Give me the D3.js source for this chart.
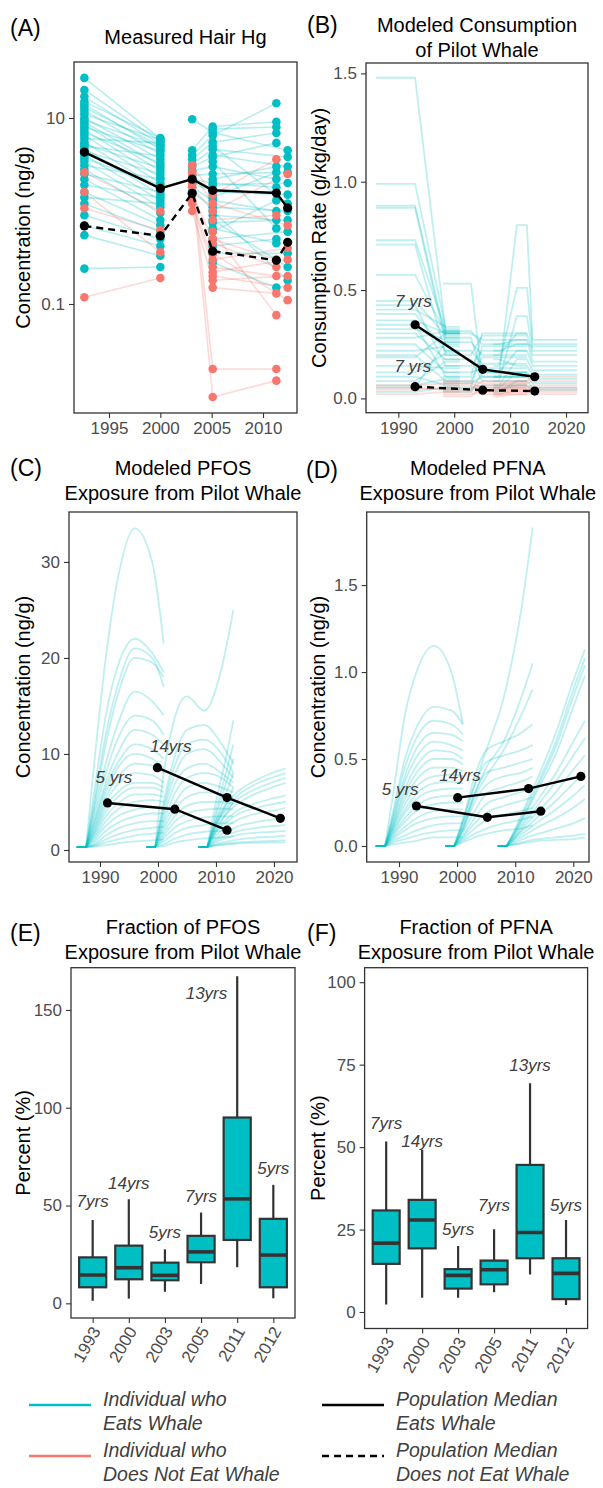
<!DOCTYPE html>
<meta charset="utf-8">
<style>
body { margin: 0; background: #fff; }
svg { font-family: "Liberation Sans", Arial, Helvetica, sans-serif; }
.axis text { fill: #4d4d4d; font-size: 17px; }
.axis line { stroke: #333; stroke-width: 1.1px; }
.axis path { display: none; }
.frame { fill: none; stroke: #333; stroke-width: 1.3px; }
.title { font-size: 20px; fill: #000; text-anchor: middle; }
.tag { font-size: 23px; fill: #000; }
.ytitle { font-size: 20px; fill: #000; text-anchor: middle; }
.note { font-size: 17px; font-style: italic; fill: #404040; text-anchor: middle; }
.legend text { font-size: 19.5px; font-style: italic; fill: #404040; }
</style>
<body>
<script src="https://cdn.jsdelivr.net/npm/d3@7"></script>
<script>
var teal = "#00BFC4", salmon = "#F8766D";

// ---------- (A) measured hair Hg ----------
var hgYears = [1992.6, 2000, 2003.1, 2005.1, 2011.3, 2012.4];
// cohort 1: [1993, 2000]
var hgEatC1 = [[27,6.0],[20,5.6],[17,5.2],[15,6.1],[14,4.6],[13,5.0],[12,4.1],[11,5.8],[10,3.6],[9.5,4.9],
  [9,3.1],[8.5,2.7],[8,4.4],[7.5,2.3],[7,3.3],[6.5,2.0],[6,5.4],[5.5,1.7],[5.2,2.9],[5,3.9],[4.7,1.5],
  [4.4,2.5],[4,1.3],[3.7,1.9],[3.4,1.1],[3.1,2.2],[2.8,0.95],[2.5,1.6],[2.2,0.8],[1.9,1.4],[1.6,0.7],
  [1.4,1.2],[1.2,0.6],[0.9,0.5],[0.7,0.42],[0.55,0.33],[0.24,0.25]];
var hgNotC1 = [[1.6,0.36],[1.07,0.62],[0.118,0.19],[2.6,1.0]];
// cohort 2: [2003, 2005, 2011, 2012]
var hgEatC2 = [[9.7,7.0,null,4.5],[4.5,8.1,9.1,null],[4.0,6.5,14.4,null],[3.6,5.5,6.9,null],[3.2,4.6,null,3.8],
  [3.0,3.8,5.4,null],[2.7,3.0,2.2,null],[2.4,2.5,null,2.6],[2.2,2.0,1.8,null],[2.0,1.6,null,1.5],
  [1.8,1.3,1.0,null],[1.6,1.1,null,1.0],[null,0.9,0.8,null],[null,0.75,null,0.8],[null,0.6,1.3,null],
  [null,0.5,null,0.6],[null,0.42,0.5,null],[null,0.35,null,0.35],[null,0.28,0.15,null],[null,2.2,3.0,null],
  [null,1.9,null,2.0],[null,1.4,2.6,null],[null,5.0,null,1.2],[null,3.4,0.65,null],[null,0.8,null,0.25],
  [null,0.65,0.45,null],[null,1.0,null,0.18],[null,7.6,8.0,null],[null,4.0,null,3.0]];
var hgNotC2 = [[3.1,1.5,3.6,null],[2.5,0.02,0.02,null],[2.0,0.01,0.015,null],[1.8,1.0,null,2.5],
  [1.5,0.5,0.3,null],[1.3,0.3,null,0.4],[1.2,0.25,0.2,null],[1.0,0.18,null,0.2],[null,0.15,0.13,null],
  [null,0.2,null,0.15],[null,0.6,0.076,null],[null,0.35,null,0.11],[null,0.45,0.25,null],
  [null,0.22,null,0.3],[null,0.8,0.9,null],[2.6,1.2,null,0.7]];
var hgMedEat = [4.3, 1.75, 2.2, 1.67, 1.56, 1.08];
var hgMedNot = [0.69, 0.54, 1.55, 0.37, 0.295, 0.46];

// ---------- (B) modeled consumption ----------
var bYears1 = [1986, 1993, 1998.5, 2001];
var bEat1 = [[1.48,0.30],[0.99,0.32],[0.89,0.28],[0.88,0.25],[0.73,0.31],[0.71,0.20],[0.57,0.30],[0.45,0.29],
  [0.43,0.15],[0.41,0.33],[0.39,0.22],[0.36,0.30],[0.34,0.10],[0.32,0.27],[0.30,0.18],[0.28,0.31],[0.25,0.12],
  [0.22,0.24],[0.20,0.08],[0.19,0.30],[0.15,0.14],[0.12,0.21],[0.10,0.06],[0.08,0.17],[0.06,0.09],[0.05,0.26],[0.03,0.05]];
var bNot1 = [[0.06,0.07],[0.04,0.05],[0.02,0.03],[0.05,0.04]];
var bYears2 = [1998, 2003, 2005, 2013];
var bEat2 = [[0.53,0.10],[0.31,0.25],[0.30,0.27],[0.28,0.12],[0.26,0.20],[0.22,0.16],[0.20,0.29],[0.18,0.08],
  [0.15,0.22],[0.12,0.14],[0.10,0.30],[0.08,0.19],[0.07,0.10],[0.05,0.24],[0.04,0.06],[0.03,0.12]];
var bNot2 = [[0.05,0.06],[0.03,0.04],[0.07,0.05],[0.02,0.03],[0.04,0.08],[0.06,0.02],[0.01,0.05],[0.08,0.07]];
var bYears3 = [2007, 2008, 2011.2, 2013, 2014, 2022];
var bEat3 = [[0.10,0.80,0.27],[0.15,0.51,0.25],[0.08,0.38,0.22],[0.20,0.30,0.20],[0.25,0.27,0.17],
  [0.12,0.22,0.15],[0.06,0.18,0.13],[0.18,0.15,0.11],[0.05,0.12,0.09],[0.10,0.10,0.07],[0.03,0.08,0.05],
  [0.22,0.25,0.24],[0.04,0.06,0.04]];
var bNot3 = [[0.03,0.05,0.06],[0.02,0.03,0.04],[0.05,0.07,0.08],[0.01,0.02,0.02],[0.04,0.06,0.03],
  [0.06,0.08,0.10],[0.02,0.04,0.05]];
var bMedYears = [1993, 2005.1, 2014.4];
var bMedEat = [0.34, 0.134, 0.10];
var bMedNot = [0.054, 0.038, 0.034];
var bNotes = [[1992.7, 0.45, "7 yrs"], [1992.6, 0.149, "7 yrs"]];

// ---------- (C) PFOS and (D) PFNA modeled exposure ----------
var knots1 = [1986, 1987.6, 1989, 1991, 1993, 1996, 1999, 2001];
var knots2 = [1998, 1999.5, 2001, 2003, 2005, 2008, 2011, 2013];
var knots3 = [2007, 2008.5, 2010, 2012, 2014, 2017, 2020, 2022];
var knots3b = [2007, 2008.5, 2010, 2011.5, 2013];

var pfosC1 = [[0.3,0.3,9,20,28,33.5,30,21.5],[0.3,0.3,6,14,19,22,20.5,18.5],[0.3,0.3,5,12,17,21,20,17],
  [0.3,0.3,4.5,11,16,20,19.5,18],[0.3,0.3,4,9,13,16.5,15.5,14],[0.3,0.3,3.5,8,11.5,14,13.5,12],
  [0.3,0.3,3,7,10,12.5,12,11],[0.3,0.3,2.8,6.5,9,11,10.5,9.5],[0.3,0.3,2.5,6,8.5,10,9.5,8.5],
  [0.3,0.3,2.2,5.5,7.5,9,8.8,8],[0.3,0.3,2,5,6.8,8,7.8,7],[0.3,0.3,1.8,4.5,6,7,7,6.5],
  [0.3,0.3,1.6,4,5.5,6.5,6.5,6],[0.3,0.3,1.4,3.5,4.8,5.8,5.8,5.5],[0.3,0.3,1.2,3,4.2,5,5.2,5],
  [0.3,0.3,1,2.5,3.5,4.2,4.5,4.3],[0.3,0.3,0.8,2,2.8,3.5,3.8,3.8],[0.3,0.3,0.6,1.5,2.2,2.8,3,3],
  [0.3,0.3,0.5,1.1,1.6,2.1,2.3,2.4],[0.3,0.3,0.4,0.8,1.1,1.5,1.7,1.8],[0.3,0.3,0.35,0.5,0.7,0.9,1.0,1.1]];
var pfosC2 = [[0.3,0.3,8,14,16,14.5,19,25],[0.3,0.3,5,10,12.5,13,11,9],[0.3,0.3,4.5,9,11,11.5,10,8],
  [0.3,0.3,4,8,10,10.5,9,7.5],[0.3,0.3,3.5,7,8.5,9,8,7],[0.3,0.3,3,6,7.5,8,7.5,6.5],
  [0.3,0.3,2.6,5,6.5,7,6.5,6],[0.3,0.3,2.2,4.3,5.5,6,5.8,5.5],[0.3,0.3,1.8,3.6,4.6,5,5,4.8],
  [0.3,0.3,1.5,3,3.8,4.2,4.3,4.2],[0.3,0.3,1.2,2.4,3,3.4,3.5,3.5],[0.3,0.3,0.9,1.8,2.3,2.6,2.8,2.8],
  [0.3,0.3,0.6,1.2,1.6,1.9,2,2.1],[0.3,0.3,0.4,0.8,1,1.2,1.3,1.4]];
var pfosC3 = [[0.3,0.3,3,5,6.2,7.3,8.1,8.5],[0.3,0.3,2.8,4.6,5.8,6.9,7.6,8],[0.3,0.3,2.6,4.3,5.4,6.4,7.1,7.5],
  [0.3,0.3,2.3,3.9,4.9,5.9,6.6,7],[0.3,0.3,2,3.3,4.2,4.9,5.4,5.7],[0.3,0.3,1.8,3,3.8,4.4,4.8,5],
  [0.3,0.3,1.5,2.5,3.2,3.8,4.1,4.4],[0.3,0.3,1.2,2,2.5,2.9,3.2,3.4],[0.3,0.3,1,1.6,2,2.3,2.5,2.6],
  [0.3,0.3,0.8,1.3,1.6,1.8,1.9,2],[0.3,0.3,0.6,0.9,1.1,1.3,1.4,1.5],[0.3,0.3,0.5,0.7,0.8,0.9,0.95,1],
  [0.3,0.3,0.45,0.6,0.7,0.75,0.78,0.8]];
var pfosC3b = [[0.3,0.3,5,9,13.5],[0.3,0.3,4,7.5,11],[0.3,0.3,3.5,6.5,9.5],[0.3,0.3,3,5.5,8],
  [0.3,0.3,2.5,4.5,6.5],[0.3,0.3,2,3.5,5]];
var pfosMed5 = [[1991.3,4.9],[2002.9,4.25],[2011.9,2.06]];
var pfosMed14 = [[1999.9,8.57],[2011.9,5.46],[2021.1,3.3]];
var pfosNotes = [[1992.4, 7.57, "5 yrs"], [2002.2, 10.8, "14yrs"]];

var pfnaC1 = [[0,0,0.3,0.75,1.0,1.15,1.0,0.7],[0,0,0.2,0.5,0.68,0.8,0.78,0.7],[0,0,0.18,0.45,0.62,0.72,0.7,0.64],
  [0,0,0.16,0.4,0.56,0.65,0.64,0.6],[0,0,0.15,0.37,0.51,0.6,0.58,0.55],[0,0,0.13,0.33,0.46,0.55,0.54,0.5],
  [0,0,0.12,0.3,0.42,0.5,0.5,0.47],[0,0,0.11,0.27,0.38,0.45,0.45,0.43],[0,0,0.1,0.24,0.34,0.4,0.41,0.4],
  [0,0,0.09,0.21,0.3,0.36,0.37,0.36],[0,0,0.08,0.19,0.27,0.32,0.33,0.33],[0,0,0.07,0.16,0.23,0.28,0.29,0.29],
  [0,0,0.06,0.14,0.2,0.24,0.25,0.25],[0,0,0.05,0.11,0.16,0.2,0.21,0.21],[0,0,0.04,0.09,0.13,0.16,0.17,0.17],
  [0,0,0.03,0.06,0.09,0.12,0.13,0.13],[0,0,0.02,0.04,0.06,0.08,0.09,0.09],[0,0,0.01,0.02,0.03,0.05,0.05,0.05]];
var pfnaC2 = [[0,0,0.15,0.35,0.55,0.85,1.35,1.83],[0,0,0.12,0.3,0.45,0.6,0.85,1.05],[0,0,0.1,0.28,0.4,0.55,0.75,0.9],
  [0,0,0.15,0.4,0.55,0.6,0.65,0.7],[0,0,0.13,0.35,0.48,0.52,0.55,0.58],[0,0,0.1,0.3,0.42,0.45,0.48,0.5],
  [0,0,0.09,0.25,0.35,0.4,0.42,0.45],[0,0,0.08,0.2,0.3,0.34,0.37,0.4],[0,0,0.06,0.16,0.24,0.28,0.31,0.33],
  [0,0,0.05,0.13,0.19,0.23,0.26,0.28],[0,0,0.04,0.1,0.15,0.18,0.2,0.22],[0,0,0.03,0.07,0.1,0.13,0.15,0.17],
  [0,0,0.02,0.05,0.07,0.09,0.1,0.12]];
var pfnaC3 = [[0,0,0.1,0.25,0.4,0.65,0.95,1.13],[0,0,0.09,0.23,0.37,0.6,0.9,1.08],[0,0,0.08,0.21,0.35,0.57,0.86,1.04],
  [0,0,0.08,0.2,0.33,0.53,0.8,0.98],[0,0,0.07,0.17,0.27,0.42,0.6,0.72],[0,0,0.06,0.15,0.24,0.37,0.52,0.62],
  [0,0,0.05,0.13,0.2,0.31,0.44,0.52],[0,0,0.05,0.11,0.17,0.26,0.36,0.43],[0,0,0.04,0.09,0.14,0.21,0.29,0.35],
  [0,0,0.03,0.07,0.11,0.16,0.22,0.27],[0,0,0.02,0.05,0.07,0.1,0.13,0.16],[0,0,0.01,0.03,0.04,0.05,0.06,0.07],
  [0,0,0.01,0.02,0.03,0.035,0.04,0.05]];
var pfnaMed5 = [[1993,0.23],[2005.2,0.165],[2014.4,0.2]];
var pfnaMed14 = [[2000.1,0.278],[2012.3,0.33],[2021.3,0.40]];
var pfnaNotes = [[1990.2, 0.33, "5 yrs"], [2000.5, 0.41, "14yrs"]];

// ---------- (E) (F) fractions from pilot whale ----------
var boxYears = ["1993", "2000", "2003", "2005", "2011", "2012"];
var ageLabels = ["7yrs", "14yrs", "5yrs", "7yrs", "13yrs", "5yrs"];
var pfosLow  = [1.3, 2.4, 5.9, 9.9, 18.4, 2.6];
var pfosQ1   = [8.2, 12.3, 11.8, 21, 32.4, 8.2];
var pfosMed  = [14.5, 18.2, 14.3, 26.3, 53.4, 24.7];
var pfosQ3   = [23.5, 29.5, 20.8, 34.5, 95, 43.2];
var pfosHigh = [42.6, 53.2, 27.6, 46.4, 167.2, 60.6];
var pfosLabY = [52.3, 61.5, 36.6, 55, 158.6, 69.2];
var pfosLabShift = [0, 0, 0, 0, -0.85, 0];
var pfnaLow  = [2.3, 4.3, 4.3, 6, 11.4, 2.1];
var pfnaQ1   = [14.6, 19.3, 7.1, 8.4, 16.3, 3.9];
var pfnaMed  = [20.9, 27.9, 11.1, 12.8, 24.1, 11.7];
var pfnaQ3   = [30.8, 34, 13, 15.6, 44.6, 16.3];
var pfnaHigh = [51.7, 49.2, 20, 25.1, 69.4, 27.9];
var pfnaLabY = [57.3, 51.9, 25.2, 32.3, 75, 32.3];
var pfnaLabShift = [0, 0, 0, 0, 0, 0];

var svg = d3.select("body").append("svg").attr("width", 603).attr("height", 1488);
var clipId = 0;

function makePanel(c) {
  var g = svg.append("g").attr("transform", "translate(" + c.left + "," + c.top + ")");
  var id = "clip" + (clipId++);
  g.append("clipPath").attr("id", id).append("rect").attr("width", c.w).attr("height", c.h);
  var plot = g.append("g").attr("clip-path", "url(#" + id + ")");
  var yAxis = d3.axisLeft(c.y).tickValues(c.yticks).tickSize(5).tickPadding(4);
  if (c.yfmt) yAxis.tickFormat(c.yfmt);
  g.append("g").attr("class", "axis").call(yAxis);
  var xAxis = d3.axisBottom(c.x).tickSize(5).tickPadding(4);
  if (c.xticks) xAxis.tickValues(c.xticks).tickFormat(d3.format("d"));
  var xg = g.append("g").attr("class", "axis").attr("transform", "translate(0," + c.h + ")").call(xAxis);
  if (c.rotate) {
    xg.selectAll("text").attr("y", 0).attr("x", 0).attr("dy", "0.35em")
      .attr("text-anchor", "end").attr("transform", "translate(3,10) rotate(-60)");
  }
  g.append("rect").attr("class", "frame").attr("width", c.w).attr("height", c.h);
  g.append("text").attr("class", "ytitle")
    .attr("transform", "translate(" + (c.ytx - c.left) + "," + (c.h / 2) + ") rotate(-90)")
    .attr("dy", "0.35em").text(c.ylab);
  c.title.forEach(function(t, i) {
    svg.append("text").attr("class", "title").attr("x", c.left + c.w / 2).attr("y", c.titleY + i * 25).text(t);
  });
  svg.append("text").attr("class", "tag").attr("x", c.tagX).attr("y", c.tagY).text(c.tag);
  return { g: g, plot: plot };
}

function drawMedian(plot, pts, x, y, dashed) {
  plot.append("path").datum(pts)
    .attr("d", d3.line().x(function(d) { return x(d[0]); }).y(function(d) { return y(d[1]); }))
    .attr("fill", "none").attr("stroke", "#000").attr("stroke-width", 2.4)
    .attr("stroke-dasharray", dashed ? "7,5" : null);
  plot.selectAll(null).data(pts).enter().append("circle")
    .attr("cx", function(d) { return x(d[0]); }).attr("cy", function(d) { return y(d[1]); })
    .attr("r", 4.6).attr("fill", "#000");
}

function drawNotes(g, notes, x, y) {
  notes.forEach(function(n) {
    g.append("text").attr("class", "note").attr("x", x(n[0])).attr("y", y(n[1])).attr("dy", "0.35em").text(n[2]);
  });
}

// ===== (A) =====
(function() {
  var x = d3.scaleLinear().domain([1991.59, 2013.31]).range([0, 223]);
  var y = d3.scaleLog().domain([0.00673, 40]).range([351, 0]);
  var p = makePanel({ left: 74, top: 62, w: 223, h: 351, x: x, y: y,
    xticks: [1995, 2000, 2005, 2010], yticks: [0.1, 10], yfmt: d3.format("~g"),
    ylab: "Concentration (ng/g)", ytx: 23, title: ["Measured Hair Hg"], titleY: 44,
    tag: "(A)", tagX: 10, tagY: 36 });
  function rows(c1, c2) {
    return c1.map(function(r) { return [r[0], r[1], null, null, null, null]; })
      .concat(c2.map(function(r) { return [null, null, r[0], r[1], r[2], r[3]]; }));
  }
  var eat = rows(hgEatC1, hgEatC2), not = rows(hgNotC1, hgNotC2);
  var line = d3.line().x(function(d) { return x(d[0]); }).y(function(d) { return y(d[1]); });
  function pts(r) {
    return r.map(function(v, i) { return [hgYears[i], v]; }).filter(function(d) { return d[1] != null; });
  }
  [[not, salmon], [eat, teal]].forEach(function(s) {
    s[0].forEach(function(r) {
      p.plot.append("path").datum(pts(r)).attr("d", line).attr("fill", "none")
        .attr("stroke", s[1]).attr("stroke-opacity", 0.28).attr("stroke-width", 1.6);
    });
  });
  [[eat, teal], [not, salmon]].forEach(function(s) {
    s[0].forEach(function(r) {
      p.plot.selectAll(null).data(pts(r)).enter().append("circle")
        .attr("cx", function(d) { return x(d[0]); }).attr("cy", function(d) { return y(d[1]); })
        .attr("r", 4.3).attr("fill", s[1]);
    });
  });
  drawMedian(p.plot, hgMedEat.map(function(v, i) { return [hgYears[i], v]; }), x, y, false);
  drawMedian(p.plot, hgMedNot.map(function(v, i) { return [hgYears[i], v]; }), x, y, true);
})();

// ===== (B) =====
(function() {
  var x = d3.scaleLinear().domain([1984.22, 2023.93]).range([0, 222]);
  var y = d3.scaleLinear().domain([-0.066, 1.548]).range([349.7, 0]);
  var p = makePanel({ left: 366, top: 63, w: 222, h: 349.7, x: x, y: y,
    xticks: [1990, 2000, 2010, 2020], yticks: [0, 0.5, 1, 1.5], yfmt: d3.format(".1f"),
    ylab: "Consumption Rate (g/kg/day)", ytx: 319, title: ["Modeled Consumption", "of Pilot Whale"], titleY: 32,
    tag: "(B)", tagX: 307, tagY: 33 });
  var line = d3.line().x(function(d) { return x(d[0]); }).y(function(d) { return y(d[1]); });
  function draw(years, rows, expand, color) {
    rows.forEach(function(r) {
      var vals = expand(r);
      p.plot.append("path").datum(years.map(function(yr, i) { return [yr, vals[i]]; }))
        .attr("d", line).attr("fill", "none").attr("stroke", color)
        .attr("stroke-opacity", 0.25).attr("stroke-width", 1.8);
    });
  }
  var two = function(r) { return [r[0], r[0], r[1], r[1]]; };
  var three = function(r) { return [r[0], r[0], r[1], r[1], r[2], r[2]]; };
  draw(bYears1, bEat1, two, teal);
  draw(bYears2, bEat2, two, teal);
  draw(bYears3, bEat3, three, teal);
  draw(bYears1, bNot1, two, salmon);
  draw(bYears2, bNot2, two, salmon);
  draw(bYears3, bNot3, three, salmon);
  drawMedian(p.plot, bMedYears.map(function(yr, i) { return [yr, bMedEat[i]]; }), x, y, false);
  drawMedian(p.plot, bMedYears.map(function(yr, i) { return [yr, bMedNot[i]]; }), x, y, true);
  drawNotes(p.g, bNotes, x, y);
})();

function drawCurves(plot, x, y, knots, rows) {
  var gen = d3.line().curve(d3.curveMonotoneX)
    .x(function(d) { return x(d[0]); }).y(function(d) { return y(d[1]); });
  rows.forEach(function(r) {
    var pts = knots.map(function(k, i) { return [k, r[i]]; });
    var d = "M" + x(pts[0][0]) + "," + y(pts[0][1]) + gen(pts.slice(1)).replace(/^M/, "L");
    plot.append("path").attr("d", d).attr("fill", "none").attr("stroke", teal)
      .attr("stroke-opacity", 0.25).attr("stroke-width", 1.8);
  });
}

// ===== (C) =====
(function() {
  var x = d3.scaleLinear().domain([1984.66, 2023.97]).range([0, 228]);
  var y = d3.scaleLinear().domain([-1.25, 35.2]).range([350, 0]);
  var p = makePanel({ left: 69, top: 512, w: 228, h: 350, x: x, y: y,
    xticks: [1990, 2000, 2010, 2020], yticks: [0, 10, 20, 30],
    ylab: "Concentration (ng/g)", ytx: 23, title: ["Modeled PFOS", "Exposure from Pilot Whale"], titleY: 475,
    tag: "(C)", tagX: 10, tagY: 476 });
  drawCurves(p.plot, x, y, knots1, pfosC1);
  drawCurves(p.plot, x, y, knots2, pfosC2);
  drawCurves(p.plot, x, y, knots3, pfosC3);
  drawCurves(p.plot, x, y, knots3b, pfosC3b);
  drawMedian(p.plot, pfosMed5, x, y, false);
  drawMedian(p.plot, pfosMed14, x, y, false);
  drawNotes(p.g, pfosNotes, x, y);
})();

// ===== (D) =====
(function() {
  var x = d3.scaleLinear().domain([1984.44, 2022.7]).range([0, 222.3]);
  var y = d3.scaleLinear().domain([-0.092, 1.92]).range([350, 0]);
  var p = makePanel({ left: 366.7, top: 512, w: 222.3, h: 350, x: x, y: y,
    xticks: [1990, 2000, 2010, 2020], yticks: [0, 0.5, 1, 1.5], yfmt: d3.format(".1f"),
    ylab: "Concentration (ng/g)", ytx: 318, title: ["Modeled PFNA", "Exposure from Pilot Whale"], titleY: 475,
    tag: "(D)", tagX: 306, tagY: 478 });
  drawCurves(p.plot, x, y, knots1, pfnaC1);
  drawCurves(p.plot, x, y, knots2, pfnaC2);
  drawCurves(p.plot, x, y, knots3, pfnaC3);
  drawMedian(p.plot, pfnaMed5, x, y, false);
  drawMedian(p.plot, pfnaMed14, x, y, false);
  drawNotes(p.g, pfnaNotes, x, y);
})();

// ===== (E) (F) boxplots =====
function boxPanel(c, low, q1, med, q3, high, labY, labShift) {
  var x = d3.scalePoint().domain(boxYears).range([0, c.w]).padding(0.6);
  var step = x.step(), bw = step * 0.75;
  c.x = x;
  c.rotate = true;
  var p = makePanel(c);
  var y = c.y;
  boxYears.forEach(function(yr, i) {
    var cx = x(yr);
    p.plot.append("line").attr("x1", cx).attr("x2", cx).attr("y1", y(low[i])).attr("y2", y(high[i]))
      .attr("stroke", "#333").attr("stroke-width", 2.2);
    p.plot.append("rect").attr("x", cx - bw / 2).attr("width", bw)
      .attr("y", y(q3[i])).attr("height", y(q1[i]) - y(q3[i]))
      .attr("fill", teal).attr("stroke", "#333").attr("stroke-width", 2.2);
    p.plot.append("line").attr("x1", cx - bw / 2).attr("x2", cx + bw / 2).attr("y1", y(med[i])).attr("y2", y(med[i]))
      .attr("stroke", "#333").attr("stroke-width", 3.6);
    p.g.append("text").attr("class", "note").attr("x", cx + labShift[i] * step).attr("y", y(labY[i]))
      .attr("dy", "0.35em").text(ageLabels[i]);
  });
}

boxPanel({ left: 71, top: 967.7, w: 224, h: 350.3,
  y: d3.scaleLinear().domain([-7.5, 171.6]).range([350.3, 0]), yticks: [0, 50, 100, 150],
  ylab: "Percent (%)", ytx: 23, title: ["Fraction of PFOS", "Exposure from Pilot Whale"], titleY: 934,
  tag: "(E)", tagX: 10, tagY: 941 }, pfosLow, pfosQ1, pfosMed, pfosQ3, pfosHigh, pfosLabY, pfosLabShift);

boxPanel({ left: 364.6, top: 967.7, w: 223, h: 360.8,
  y: d3.scaleLinear().domain([-5, 104.4]).range([360.8, 0]), yticks: [0, 25, 50, 75, 100],
  ylab: "Percent (%)", ytx: 318, title: ["Fraction of PFNA", "Exposure from Pilot Whale"], titleY: 934,
  tag: "(F)", tagX: 307, tagY: 941 }, pfnaLow, pfnaQ1, pfnaMed, pfnaQ3, pfnaHigh, pfnaLabY, pfnaLabShift);

// ===== legend =====
var legendItems = [
  { x: 29, y: 1405, color: teal, dash: null, lines: ["Individual who", "Eats Whale"] },
  { x: 29, y: 1456, color: salmon, dash: null, lines: ["Individual who", "Does Not Eat Whale"] },
  { x: 322, y: 1405, color: "#000", dash: null, lines: ["Population Median", "Eats Whale"] },
  { x: 322, y: 1456, color: "#000", dash: "7,5", lines: ["Population Median", "Does not Eat Whale"] }
];
var lg = svg.append("g").attr("class", "legend");
legendItems.forEach(function(it) {
  lg.append("line").attr("x1", it.x).attr("x2", it.x + 62).attr("y1", it.y).attr("y2", it.y)
    .attr("stroke", it.color).attr("stroke-width", 2.6).attr("stroke-dasharray", it.dash);
  it.lines.forEach(function(t, i) {
    lg.append("text").attr("x", it.x + 74).attr("y", it.y - 6 + i * 24 + 7).text(t);
  });
});
</script>
</body>
